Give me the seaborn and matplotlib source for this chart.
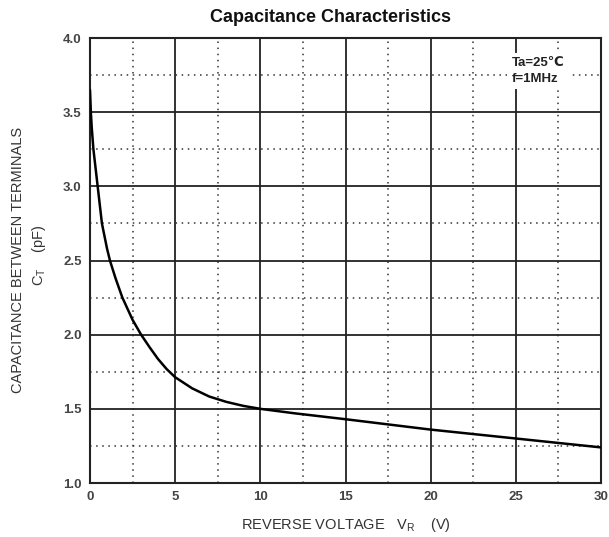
import matplotlib
matplotlib.use("Agg")
import matplotlib.pyplot as plt
import seaborn as sns
import pandas as pd
from matplotlib.ticker import MultipleLocator

# Data
voltage = [0, 0.05, 0.1, 0.2, 0.35, 0.45, 0.7, 1.0, 1.17, 1.5, 1.9, 2.5, 3.0, 3.5, 4.0, 4.5, 5.0, 6.0, 7.0, 8.0, 9.0, 10.0, 12.0, 15.0, 20.0, 25.0, 30.0]
capacitance = [3.65, 3.50, 3.40, 3.25, 3.10, 3.00, 2.75, 2.58, 2.50, 2.38, 2.25, 2.10, 2.00, 1.915, 1.835, 1.768, 1.713, 1.638, 1.583, 1.547, 1.52, 1.50, 1.47, 1.43, 1.36, 1.30, 1.24]
xticks = [0, 5, 10, 15, 20, 25, 30]
yticks = [1.0, 1.5, 2.0, 2.5, 3.0, 3.5, 4.0]

df = pd.DataFrame({"VR": voltage, "CT": capacitance})

sns.set_style("white")
plt.rcParams['font.family'] = ['Liberation Sans', 'DejaVu Sans']

fig = plt.figure(figsize=(6.09, 5.37), dpi=100)
ax = fig.add_axes([90/609, 1-483/537, (601-90)/609, (483-38)/537])

sns.lineplot(data=df, x="VR", y="CT", ax=ax, color="black", linewidth=1.8, zorder=5)

ax.set_xlim(0, 30)
ax.set_ylim(1.0, 4.0)
ax.set_xticks(xticks)
ax.set_yticks(yticks)
ax.set_xticklabels([str(t) for t in xticks])
ax.set_yticklabels([f"{t:.1f}" for t in yticks])
ax.xaxis.set_minor_locator(MultipleLocator(2.5))
ax.yaxis.set_minor_locator(MultipleLocator(0.25))
ax.grid(True, which="major", color="#222222", linewidth=1.3, linestyle="-")
ax.grid(True, which="minor", color="#333333", linewidth=1.1, linestyle=(0, (1, 3)))
ax.set_axisbelow(True)
for s in ax.spines.values():
    s.set_color("#222222")
    s.set_linewidth(1.5)
ax.tick_params(axis="both", which="both", length=0, labelsize=9.5, labelcolor="#444444", pad=6)
for lab in ax.get_xticklabels() + ax.get_yticklabels():
    lab.set_fontweight("bold")

ax.set_xlabel("REVERSE VOLTAGE   V$_\\mathregular{R}$    (V)", fontsize=10.5, color="#333333", labelpad=9)
ax.set_ylabel("")
fig.text(18/609, 1-260/537, "CAPACITANCE BETWEEN TERMINALS", rotation=90, ha="center", va="center",
         fontsize=10.5, color="#333333")
fig.text(39/609, 1-255/537, "C$_\\mathregular{T}$    (pF)", rotation=90, ha="center", va="center",
         fontsize=10.5, color="#333333")

fig.text(330/609, 1-18/537, "Capacitance Characteristics", ha="center", va="center",
         fontsize=13, fontweight="bold", color="#111111")

ax.text(24.75, 3.87, "Ta=25\u2103\nf=1MHz", ha="left", va="top", fontsize=9.5, fontweight="bold",
        color="#222222", linespacing=1.4, zorder=6,
        bbox=dict(facecolor="white", edgecolor="none", pad=3))

fig.savefig("out.png", dpi=100)
